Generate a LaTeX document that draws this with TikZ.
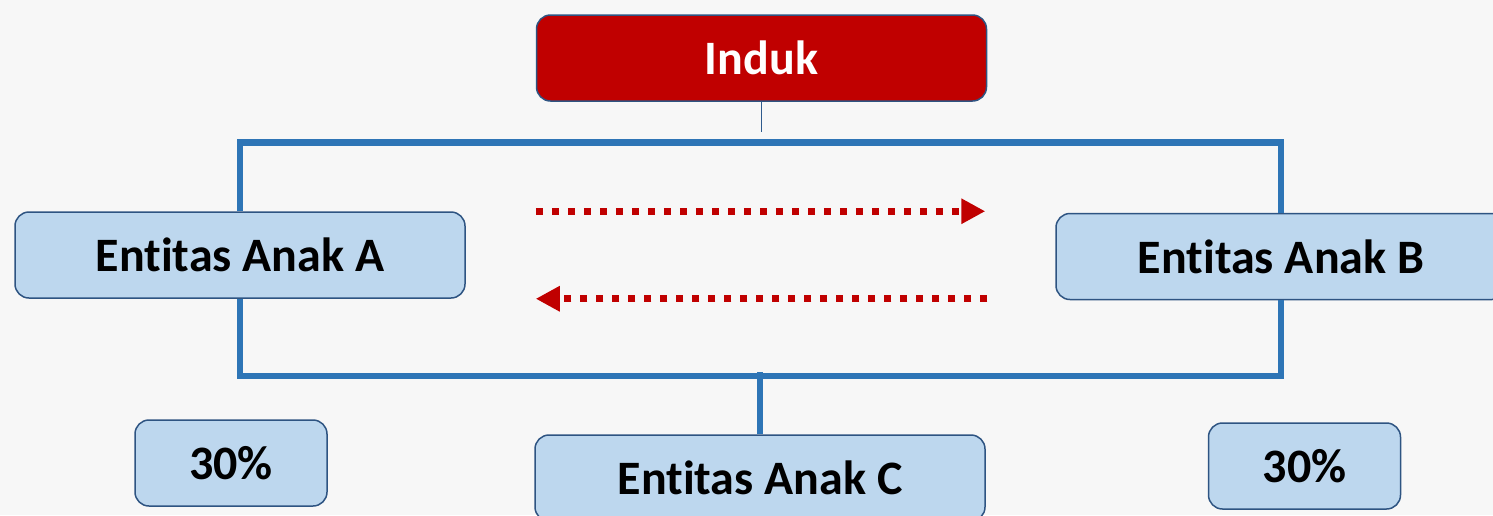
\documentclass[tikz,border=0pt]{standalone}
\usepackage{fontspec}
\setmainfont{Carlito}[Ligatures=NoCommon]
\usetikzlibrary{arrows.meta}
\definecolor{BoxBlue}{RGB}{189,215,238}
\definecolor{EdgeBlue}{RGB}{46,84,130}
\definecolor{BusBlue}{RGB}{46,117,182}
\definecolor{ParentRed}{RGB}{192,0,0}
\definecolor{PageGray}{RGB}{247,247,247}

\begin{document}
\begin{tikzpicture}[x=1pt,y=-1pt,
  entity/.style={draw=EdgeBlue,line width=1.5pt,fill=BoxBlue,rounded corners=14pt,
    minimum width=450pt,minimum height=86pt,font=\fontsize{48}{56}\selectfont\bfseries},
  share/.style={entity,minimum width=192pt},
  bus/.style={BusBlue,line width=6.5pt},
  flow/.style={ParentRed,line width=7pt,dash pattern=on 7pt off 9pt,
    -{Triangle[length=24pt,width=24pt]}}]
  \fill[PageGray] (0,0) rectangle (1493,515);
  \useasboundingbox (0,0) rectangle (1493,515);
  % parent and the three subsidiaries
  \node[entity,fill=ParentRed,text=white] (induk) at (761.5,58) {Induk};
  \node[entity] (anakA) at (240,255) {Entitas Anak A};
  \node[entity] (anakB) at (1281,256.5) {Entitas Anak B};
  \node[entity] (anakC) at (760,478) {Entitas Anak C};
  \node[share] (pctA) at (231,463) {30\%};
  \node[share] (pctB) at (1304.5,466) {30\%};
  % ownership lines
  \draw[EdgeBlue!80!BusBlue,line width=1pt] (induk.south) -- ++(0,30);
  \draw[bus] (anakA.north) -- ++(0,-69) -| (anakB.north);
  \draw[bus] (anakA.south) -- ++(0,77) -| (anakB.south);
  \draw[bus] (anakC.north) -- ++(0,-62);
  % transactions between A and B
  \draw[flow] (induk.west |- anakA.north) -- ([xshift=-2pt]induk.east |- anakA.north);
  \draw[flow] (induk.east |- anakA.south) -- (induk.west |- anakA.south);
\end{tikzpicture}
\end{document}
